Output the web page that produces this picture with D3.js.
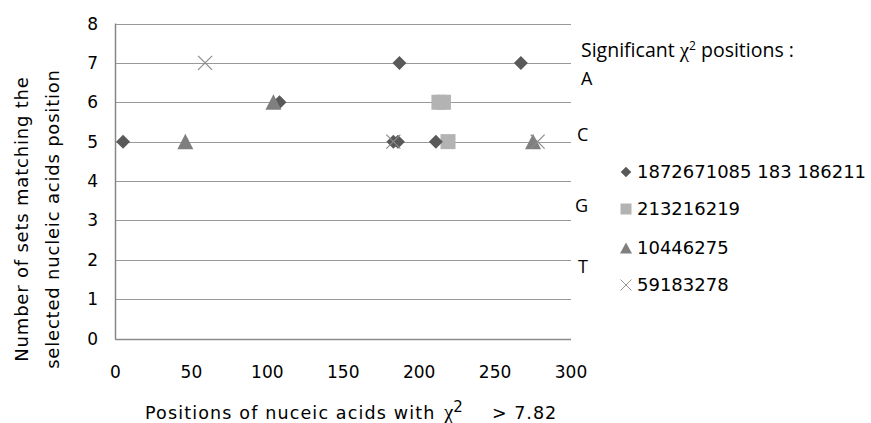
<!DOCTYPE html>
<html>
<head>
<meta charset="utf-8">
<script src="https://cdn.jsdelivr.net/npm/d3@7"></script>
<style>
  body { margin: 0; background: #fff; }
  text { font-family: "DejaVu Sans", Verdana, sans-serif; fill: #000; }
</style>
</head>
<body>
<svg width="871" height="423"></svg>
<script>
// x = position of nucleic acid, y = number of sets
var diamondX = [5, 108, 187, 267, 183, 186, 211],
    diamondY = [5, 6, 7, 7, 5, 5, 5];
var squareX = [213, 216, 219],
    squareY = [6, 6, 5];
var triangleX = [46, 104, 275],
    triangleY = [5, 6, 5];
var crossX = [59, 183, 278],
    crossY = [7, 5, 5];

var seriesNames = ["1872671085 183 186211", "213216219", "10446275", "59183278"];
var baseLabels = ["A", "C", "G", "T"];
var xTicks = [0, 50, 100, 150, 200, 250, 300];
var yTicks = [0, 1, 2, 3, 4, 5, 6, 7, 8];

var svg = d3.select("svg");

var x = d3.scaleLinear().domain([0, 300]).range([115.5, 571]);
var y = d3.scaleLinear().domain([0, 8]).range([338.5, 23.5]);

// gridlines
svg.append("g").selectAll("line")
  .data(yTicks)
  .enter().append("line")
    .attr("x1", x(0)).attr("x2", x(300))
    .attr("y1", function(d) { return Math.round(y(d)) + 0.5; })
    .attr("y2", function(d) { return Math.round(y(d)) + 0.5; })
    .attr("stroke", "#999")
    .attr("stroke-width", 1);

// left axis line
svg.append("line")
  .attr("x1", x(0)).attr("x2", x(0))
  .attr("y1", y(8)).attr("y2", y(0) + 1)
  .attr("stroke", "#868686")
  .attr("stroke-width", 1.5);

// bottom axis line (a bit heavier)
svg.append("line")
  .attr("x1", x(0)).attr("x2", x(300))
  .attr("y1", Math.round(y(0)) + 0.5).attr("y2", Math.round(y(0)) + 0.5)
  .attr("stroke", "#8a8a8a")
  .attr("stroke-width", 1.5);

// tick labels
svg.append("g").selectAll("text")
  .data(yTicks)
  .enter().append("text")
    .attr("x", 98)
    .attr("y", function(d) { return y(d); })
    .attr("dy", "0.36em")
    .attr("text-anchor", "end")
    .style("font-size", "17px")
    .text(function(d) { return d; });

svg.append("g").selectAll("text")
  .data(xTicks)
  .enter().append("text")
    .attr("x", function(d) { return x(d); })
    .attr("y", 378)
    .attr("text-anchor", "middle")
    .style("font-size", "17px")
    .text(function(d) { return d; });

// marker shapes
function diamondPath(r) {
  return "M0," + (-r) + "L" + r + ",0L0," + r + "L" + (-r) + ",0Z";
}
function squarePath(r) {
  return "M" + (-r) + "," + (-r) + "H" + r + "V" + r + "H" + (-r) + "Z";
}
function trianglePath(w, up, down) {
  return "M0," + (-up) + "L" + w + "," + down + "L" + (-w) + "," + down + "Z";
}
function crossPath(r) {
  return "M" + (-r) + "," + (-r) + "L" + r + "," + r + "M" + (-r) + "," + r + "L" + r + "," + (-r);
}

var pts = svg.append("g");

pts.selectAll(".sq")
  .data(squareX)
  .enter().append("path")
    .attr("class", "sq")
    .attr("transform", function(d, i) { return "translate(" + x(d) + "," + y(squareY[i]) + ")"; })
    .attr("d", squarePath(7.5))
    .attr("fill", "#b3b3b3");

pts.selectAll(".dm")
  .data(diamondX)
  .enter().append("path")
    .attr("class", "dm")
    .attr("transform", function(d, i) { return "translate(" + x(d) + "," + y(diamondY[i]) + ")"; })
    .attr("d", diamondPath(7))
    .attr("fill", "#595959");

pts.selectAll(".tr")
  .data(triangleX)
  .enter().append("path")
    .attr("class", "tr")
    .attr("transform", function(d, i) { return "translate(" + x(d) + "," + y(triangleY[i]) + ")"; })
    .attr("d", trianglePath(8, 8, 7.5))
    .attr("fill", "#7f7f7f");

pts.selectAll(".cr")
  .data(crossX)
  .enter().append("path")
    .attr("class", "cr")
    .attr("transform", function(d, i) { return "translate(" + x(d) + "," + y(crossY[i]) + ")"; })
    .attr("d", crossPath(7))
    .attr("stroke", "#8c8c8c")
    .attr("stroke-width", 1.2)
    .attr("fill", "none");

// legend
svg.append("rect")
  .attr("x", 573).attr("y", 29).attr("width", 254).attr("height", 34)
  .attr("fill", "#fff");

var sig = svg.append("text")
  .attr("x", 581).attr("y", 57)
  .style("font-family", "'Open Sans', 'Noto Sans', sans-serif")
  .style("font-size", "19.5px");
sig.append("tspan").text("Significant ");
sig.append("tspan").style("font-family", "'Liberation Serif', serif").style("font-size", "21px").text("χ");
sig.append("tspan").attr("dy", -7).style("font-size", "12px").text("2");
sig.append("tspan").attr("dy", 7).text(" positions :");

var baseY = [85, 141, 212, 273],
    baseXs = [581, 577, 575, 578];
svg.append("g").selectAll("text")
  .data(baseLabels)
  .enter().append("text")
    .attr("x", function(d, i) { return baseXs[i]; })
    .attr("y", function(d, i) { return baseY[i]; })
    .style("font-family", "'Open Sans', 'Noto Sans', sans-serif")
    .style("font-size", "18px")
    .text(function(d) { return d; });

var legY = [172, 209, 248, 285];
var leg = svg.append("g");
leg.append("path").attr("transform", "translate(626," + legY[0] + ")")
  .attr("d", diamondPath(5.3)).attr("fill", "#595959");
leg.append("path").attr("transform", "translate(626," + legY[1] + ")")
  .attr("d", squarePath(5.5)).attr("fill", "#b3b3b3");
leg.append("path").attr("transform", "translate(626," + legY[2] + ")")
  .attr("d", trianglePath(6, 5.5, 5.5)).attr("fill", "#7f7f7f");
leg.append("path").attr("transform", "translate(626," + legY[3] + ")")
  .attr("d", crossPath(5.5)).attr("stroke", "#999").attr("stroke-width", 1).attr("fill", "none");

leg.selectAll("text")
  .data(seriesNames)
  .enter().append("text")
    .attr("x", 637)
    .attr("y", function(d, i) { return legY[i] + 6; })
    .style("font-size", "18px")
    .text(function(d) { return d; });

// axis titles
var xt = svg.append("text")
  .attr("x", 145).attr("y", 419)
  .style("font-size", "17.5px")
  .style("letter-spacing", "1.15px");
xt.append("tspan").text("Positions of nuceic acids with");
xt.append("tspan").attr("x", 444).style("font-family", "'Liberation Serif', serif").style("font-size", "21px").style("letter-spacing", "0").text("χ");
xt.append("tspan").attr("dy", -7).style("font-size", "15px").style("letter-spacing", "0").text("2");
xt.append("tspan").attr("x", 492).attr("dy", 7).style("letter-spacing", "1px").text("> 7.82");

var yt = svg.append("text")
  .attr("transform", "translate(28,219) rotate(-90)")
  .attr("text-anchor", "middle")
  .style("font-size", "18px")
  .style("letter-spacing", "0.8px");
yt.append("tspan").attr("x", 0).attr("y", 0).text("Number of sets matching the");
yt.append("tspan").attr("x", 0).attr("y", 31).text("selected nucleic acids position");
</script>
</body>
</html>
